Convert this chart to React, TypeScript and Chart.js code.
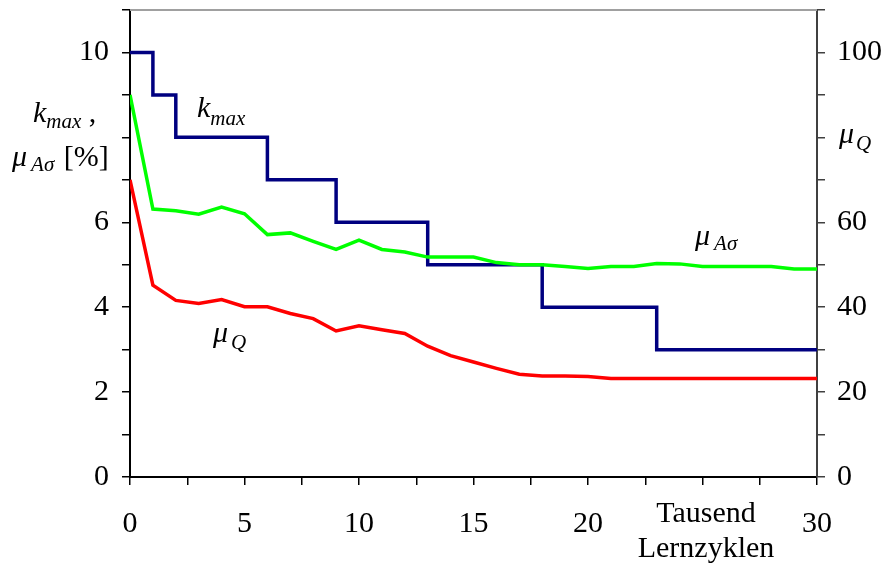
import React, { useEffect, useRef } from 'react';
import { Chart, registerables } from 'chart.js';

Chart.register(...registerables);

// Tausend Lernzyklen (x)
const cycles = [0, 1, 2, 3, 4, 5, 6, 7, 8, 9, 10, 11, 12, 13, 14, 15, 16, 17, 18, 19, 20, 21, 22, 23, 24, 25, 26, 27, 28, 29, 30];
// mu_A-sigma [%] (left axis)
const muASigma = [9, 6.31, 6.27, 6.19, 6.36, 6.2, 5.71, 5.75, 5.55, 5.36, 5.58, 5.36, 5.3, 5.18, 5.18, 5.18, 5.05, 5.0, 5.0, 4.96, 4.91, 4.96, 4.96, 5.03, 5.02, 4.96, 4.96, 4.96, 4.96, 4.9, 4.9];
// mu_Q (right axis)
const muQ = [70, 45.2, 41.6, 40.9, 41.8, 40.1, 40.1, 38.5, 37.3, 34.4, 35.6, 34.7, 33.8, 30.8, 28.6, 27.1, 25.6, 24.2, 23.8, 23.8, 23.7, 23.2, 23.2, 23.2, 23.2, 23.2, 23.2, 23.2, 23.2, 23.2, 23.2];
// k_max step changes (left axis)
const kMaxCycles = [0, 1, 2, 6, 9, 13, 18, 23, 30];
const kMaxValues = [10, 9, 8, 7, 6, 5, 4, 3, 3];

const leftTickLabels = [0, 2, 4, 6, 10];
const rightTickLabels = [0, 20, 40, 60, 100];
const xTickLabels = [0, 5, 10, 15, 20, 30];

const FONT = '"Liberation Serif", "Times New Roman", serif';

type Part = { text: string; italic?: boolean; sub?: boolean; gap?: number };

function drawRich(ctx: CanvasRenderingContext2D, x: number, y: number, parts: Part[], subShift = 7) {
  let cx = x;
  for (const p of parts) {
    const size = p.sub ? 21 : 30;
    cx += p.gap || 0;
    ctx.font = `${p.italic ? 'italic ' : ''}${size}px ${FONT}`;
    ctx.fillText(p.text, cx, y + (p.sub ? subShift : 0));
    cx += ctx.measureText(p.text).width;
  }
}

const annotationPlugin = {
  id: 'annotations',
  afterDraw(chart: any) {
    const ctx: CanvasRenderingContext2D = chart.ctx;
    const { left, right, top } = chart.chartArea;
    ctx.save();
    // top border
    ctx.strokeStyle = '#a0a0a0';
    ctx.lineWidth = 2;
    ctx.beginPath();
    ctx.moveTo(left, top);
    ctx.lineTo(right, top);
    ctx.stroke();

    ctx.fillStyle = '#000';
    ctx.textAlign = 'left';
    ctx.textBaseline = 'alphabetic';
    // left axis title
    drawRich(ctx, 33, 122, [{ text: 'k', italic: true }, { text: 'max', italic: true, sub: true }, { text: ' ,' }], 6);
    drawRich(ctx, 12, 166, [{ text: 'μ', italic: true }, { text: 'Aσ', italic: true, sub: true, gap: 4 }, { text: ' [%]', gap: 2 }], 5);
    // right axis title
    drawRich(ctx, 839, 143, [{ text: 'μ', italic: true }, { text: 'Q', italic: true, sub: true, gap: 2 }], 7);
    // series labels
    drawRich(ctx, 197, 117, [{ text: 'k', italic: true }, { text: 'max', italic: true, sub: true }], 8);
    drawRich(ctx, 213, 342, [{ text: 'μ', italic: true }, { text: 'Q', italic: true, sub: true, gap: 3 }], 7);
    drawRich(ctx, 695, 245, [{ text: 'μ', italic: true }, { text: 'Aσ', italic: true, sub: true, gap: 4 }], 5);
    // x axis title
    ctx.font = `30px ${FONT}`;
    ctx.textAlign = 'center';
    ctx.fillText('Tausend', 706, 522);
    ctx.fillText('Lernzyklen', 706, 557);
    ctx.restore();
  },
};

export default function App() {
  const canvasRef = useRef<HTMLCanvasElement | null>(null);

  useEffect(() => {
    if (!canvasRef.current) return;
    const tickFont = { family: FONT, size: 30 };
    const chart = new Chart(canvasRef.current, {
      type: 'line',
      data: {
        datasets: [
          {
            label: 'μAσ',
            data: cycles.map((c, i) => ({ x: c, y: muASigma[i] })),
            borderColor: '#00ff00',
            borderWidth: 3.5,
            pointRadius: 0,
            tension: 0,
            yAxisID: 'y',
            order: 0,
          },
          {
            label: 'μQ',
            data: cycles.map((c, i) => ({ x: c, y: muQ[i] })),
            borderColor: '#ff0000',
            borderWidth: 3.5,
            pointRadius: 0,
            tension: 0,
            yAxisID: 'y2',
            order: 1,
          },
          {
            label: 'kmax',
            data: kMaxCycles.map((c, i) => ({ x: c, y: kMaxValues[i] })),
            borderColor: '#000080',
            borderWidth: 3.5,
            pointRadius: 0,
            stepped: 'before',
            yAxisID: 'y',
            order: 2,
          },
        ],
      },
      options: {
        responsive: false,
        animation: false,
        devicePixelRatio: 1,
        layout: { padding: { top: 10, left: 0, right: 0, bottom: 0 } },
        plugins: { legend: { display: false }, tooltip: { enabled: false }, title: { display: false } },
        scales: {
          x: {
            type: 'linear',
            position: 'bottom',
            min: 0,
            max: 30,
            ticks: {
              stepSize: 2.5,
              autoSkip: false,
              maxRotation: 0,
              color: '#000',
              font: tickFont,
              padding: 21,
              callback: (v: any) => (xTickLabels.includes(Number(v)) ? String(v) : ''),
            },
            grid: { drawOnChartArea: false, drawTicks: true, tickLength: 8, color: '#000', lineWidth: 1.5 },
            border: { color: '#000', width: 2 },
            afterFit: (s: any) => {
              s.height = 86;
              s.paddingLeft = 0;
              s.paddingRight = 0;
            },
          },
          y: {
            type: 'linear',
            position: 'left',
            min: 0,
            max: 11,
            ticks: {
              stepSize: 1,
              autoSkip: false,
              color: '#000',
              font: tickFont,
              padding: 13,
              callback: (v: any) => (leftTickLabels.includes(Number(v)) ? String(v) : ''),
            },
            grid: { drawOnChartArea: false, drawTicks: true, tickLength: 8, color: '#000', lineWidth: 1.5 },
            border: { color: '#000', width: 2 },
            afterFit: (s: any) => {
              s.width = 130;
              s.paddingTop = 0;
              s.paddingBottom = 0;
            },
          },
          y2: {
            type: 'linear',
            position: 'right',
            min: 0,
            max: 110,
            ticks: {
              stepSize: 10,
              autoSkip: false,
              color: '#000',
              font: tickFont,
              padding: 12,
              callback: (v: any) => (rightTickLabels.includes(Number(v)) ? String(v) : ''),
            },
            grid: { drawOnChartArea: false, drawTicks: true, tickLength: 8, color: '#404040', lineWidth: 1.5 },
            border: { color: '#404040', width: 2 },
            afterFit: (s: any) => {
              s.width = 67;
              s.paddingTop = 0;
              s.paddingBottom = 0;
            },
          },
        },
      },
      plugins: [annotationPlugin],
    } as any);
    return () => chart.destroy();
  }, []);

  return (
    <div style={{ position: 'absolute', left: 0, top: 0, width: 884, height: 563, background: '#fff' }}>
      <canvas ref={canvasRef} width={884} height={563} style={{ width: 884, height: 563, display: 'block' }} />
    </div>
  );
}
